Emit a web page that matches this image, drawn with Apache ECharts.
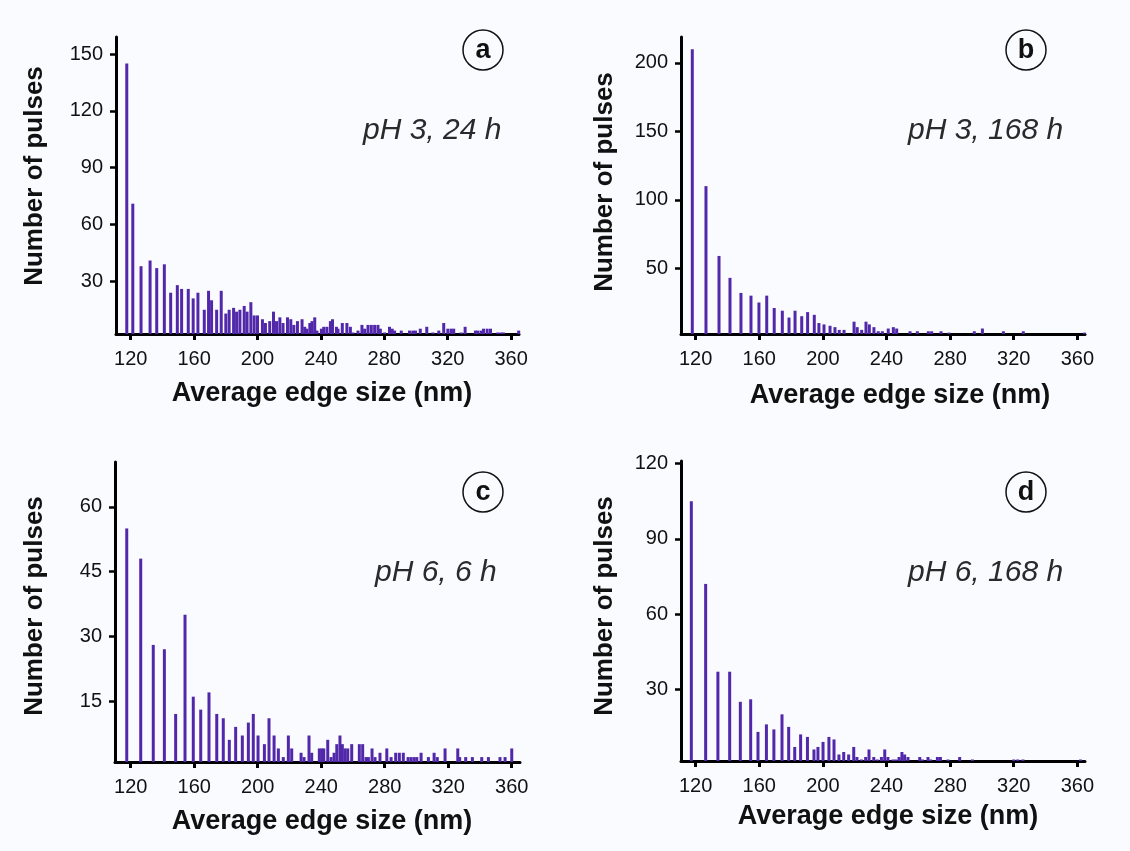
<!DOCTYPE html>
<html>
<head>
<meta charset="utf-8">
<title>Edge size distributions</title>
<script src="https://cdn.jsdelivr.net/npm/echarts@6/dist/echarts.min.js"></script>
<style>
  html, body { margin: 0; padding: 0; background: #fafbfe; }
  #chart { width: 1130px; height: 851px; }
</style>
</head>
<body>
<div id="chart"></div>
<script>
// Histogram bins: average edge size (nm) and number of pulses per bin
const xTickValues = [120, 160, 200, 240, 280, 320, 360];

const sizesA = [
  117.5, 121.3, 126.5, 132.2, 136.4, 141.2, 145.2, 149.4, 152.1, 156.3,
  159.4, 162.4, 166.4, 169.1, 171.0, 174.2, 177.1, 180.0, 182.1, 184.9,
  186.8, 188.9, 191.6, 193.4, 195.8, 197.9, 200.0, 203.1, 205.0, 207.7,
  210.1, 212.0, 214.1, 216.1, 218.9, 221.0, 222.9, 225.2, 228.1, 229.8,
  231.1, 233.0, 234.4, 236.1, 237.5, 240.3, 241.8, 243.8, 246.0, 247.3,
  249.8, 250.8, 253.5, 256.4, 258.6, 260.2, 263.4, 265.9, 267.6, 269.7,
  271.8, 273.9, 276.0, 277.5, 280.2, 283.3, 285.0, 286.5, 290.7, 295.9,
  298.0, 299.7, 302.7, 306.8, 310.6, 314.4, 317.5, 320.1, 322.2, 323.8,
  328.5, 331.0, 337.5, 339.0, 341.1, 342.6, 344.9, 347.0, 351.6, 353.7,
  355.2, 364.8
];
const countsA = [
  145, 71, 38, 41, 37, 39, 24, 28, 26, 26,
  21, 24, 15, 25, 20, 15, 25, 13, 15, 16,
  14, 15, 17, 14, 19, 12, 12, 10, 8, 9,
  14, 9, 11, 8, 11, 10, 7, 9, 10, 6,
  5, 8, 9, 11, 4, 5, 6, 6, 9, 10,
  6, 5, 8, 8, 6, 3, 4, 7, 5, 7,
  7, 7, 7, 5, 3, 6, 5, 4, 4, 4,
  4, 4, 5, 6, 3, 4, 8, 5, 5, 5,
  3, 6, 4, 4, 4, 5, 5, 5, 3, 3,
  3, 4
];

const sizesB = [
  117.9, 126.5, 134.7, 141.6, 148.5, 154.8, 159.8, 164.7, 169.4, 174.5,
  178.7, 182.5, 186.7, 190.4, 194.6, 197.5, 200.7, 204.5, 207.6, 210.3,
  213.3, 219.6, 221.6, 224.4, 227.1, 229.2, 232.1, 234.8, 237.4, 241.1,
  244.3, 246.4, 254.8, 259.4, 266.3, 268.4, 274.3, 279.3, 295.2, 300.3,
  313.5, 326.0, 364.5
];
const countsB = [
  210, 110, 59, 43, 32, 30, 25, 30, 21, 19,
  14, 19, 15, 18, 16, 10, 9, 8, 7, 5,
  5, 11, 7, 5, 11, 9, 7, 4, 4, 6,
  7, 6, 4, 4, 4, 4, 4, 3, 4, 6,
  4, 4, 3
];

const sizesC = [
  117.5, 126.3, 134.2, 141.2, 148.3, 154.2, 159.4, 164.1, 169.3, 174.2,
  178.3, 182.1, 186.1, 190.3, 194.1, 197.2, 200.2, 204.2, 207.1, 210.3,
  213.0, 216.1, 219.3, 221.4, 227.3, 229.2, 232.3, 234.0, 238.8, 240.3,
  241.6, 244.1, 246.2, 248.1, 249.8, 251.8, 253.3, 255.0, 256.7, 259.2,
  264.0, 266.1, 268.2, 269.7, 272.0, 273.9, 277.0, 281.3, 284.0, 286.9,
  289.2, 291.7, 294.7, 296.6, 298.5, 300.2, 302.9, 307.5, 311.1, 313.1,
  318.0, 326.0, 327.2, 331.0, 335.2, 341.1, 345.3, 352.6, 355.8, 360.0
];
const countsC = [
  55, 48, 28, 27, 12, 35, 16, 13, 17, 12,
  11, 6, 9, 7, 10, 12, 7, 5, 11, 7,
  4, 2, 7, 4, 3, 2, 7, 3, 4, 4,
  4, 6, 2, 3, 5, 7, 5, 4, 4, 5,
  5, 5, 2, 2, 4, 2, 3, 4, 2, 3,
  3, 3, 2, 2, 2, 2, 3, 2, 3, 2,
  4, 4, 2, 2, 2, 2, 2, 2, 2, 4
];

const sizesD = [
  117.3, 126.3, 134.0, 141.4, 148.1, 154.6, 159.2, 164.5, 169.2, 174.3,
  178.5, 182.3, 186.0, 190.3, 194.4, 196.9, 200.1, 203.8, 207.0, 210.1,
  213.1, 216.2, 219.4, 221.4, 224.2, 226.9, 229.0, 232.0, 234.2, 236.8,
  238.9, 240.9, 244.1, 245.8, 247.9, 249.7, 251.4, 253.5, 260.9, 262.6,
  266.1, 267.8, 272.0, 273.9, 278.7, 286.0, 294.0, 320.0, 322.5, 325.8,
  362.0
];
const countsD = [
  105, 72, 37, 37, 25, 26, 13, 16, 14, 20,
  15, 7, 12, 11, 6, 7, 9, 11, 10, 4,
  5, 4, 7, 3, 2, 3, 6, 3, 2, 3,
  6, 3, 2, 2, 3, 5, 4, 3, 3, 2,
  3, 2, 3, 3, 2, 3, 2, 2, 2, 2,
  2
];

const yTicksA = [30, 60, 90, 120, 150];
const yTicksB = [50, 100, 150, 200];
const yTicksC = [15, 30, 45, 60];
const yTicksD = [30, 60, 90, 120];

const panelLetters = ['a', 'b', 'c', 'd'];
const panelConditions = ['pH 3, 24 h', 'pH 3, 168 h', 'pH 6, 6 h', 'pH 6, 168 h'];
const xTitle = 'Average edge size (nm)';
const yTitle = 'Number of pulses';

// Layout of the four panels (pixel boxes, axis ranges, annotation spots)
const panels = [
  { sizes: sizesA, counts: countsA, yTicks: yTicksA,
    grid: { left: 116, top: 37, width: 403, height: 297 },
    x: [110.7, 365], y: [2.2, 159],
    circle: [483, 50], cond: [363, 131], xt: [322, 394], yt: [35, 176] },
  { sizes: sizesB, counts: countsB, yTicks: yTicksB,
    grid: { left: 681, top: 37, width: 404, height: 297 },
    x: [110.8, 364.8], y: [2.0, 218.9],
    circle: [1026, 50], cond: [908, 131], xt: [900, 396], yt: [605, 182] },
  { sizes: sizesC, counts: countsC, yTicks: yTicksC,
    grid: { left: 115, top: 462, width: 405, height: 300 },
    x: [110.1, 365.2], y: [0.86, 70.4],
    circle: [483, 492], cond: [375, 573], xt: [322, 822], yt: [35, 606] },
  { sizes: sizesD, counts: countsD, yTicks: yTicksD,
    grid: { left: 681, top: 461, width: 404, height: 300 },
    x: [110.8, 364.8], y: [1.4, 121],
    circle: [1026, 492], cond: [908, 573], xt: [888, 817], yt: [605, 606] }
];

const FONT = 'Arial, "Liberation Sans", Helvetica, sans-serif';
const BAR_COLOR = '#5228aa';

const option = {
  animation: false,
  backgroundColor: '#fafbfe',
  grid: [], xAxis: [], yAxis: [], series: [], graphic: []
};

panels.forEach((p, i) => {
  option.grid.push(Object.assign({ containLabel: false }, p.grid));
  option.xAxis.push({
    type: 'value', gridIndex: i, min: p.x[0], max: p.x[1],
    splitLine: { show: false },
    axisLine: { onZero: false, lineStyle: { color: '#000', width: 3 } },
    axisTick: { customValues: xTickValues, length: 6, lineStyle: { color: '#000', width: 3 } },
    axisLabel: { customValues: xTickValues, margin: 15, color: '#111', fontSize: 20, fontFamily: FONT }
  });
  option.yAxis.push({
    type: 'value', gridIndex: i, min: p.y[0], max: p.y[1],
    splitLine: { show: false },
    axisLine: { onZero: false, lineStyle: { color: '#000', width: 3 } },
    axisTick: { customValues: p.yTicks, length: 6, lineStyle: { color: '#000', width: 2.5 } },
    axisLabel: { customValues: p.yTicks, margin: 13, color: '#111', fontSize: 20, fontFamily: FONT }
  });
  option.series.push({
    type: 'bar', xAxisIndex: i, yAxisIndex: i, clip: true,
    barWidth: 3,
    itemStyle: { color: BAR_COLOR },
    data: p.sizes.map((s, k) => [s, p.counts[k]])
  });
  option.graphic.push(
    { type: 'circle', shape: { cx: p.circle[0], cy: p.circle[1], r: 20 },
      style: { fill: 'none', stroke: '#111', lineWidth: 1.5 } },
    { type: 'text', x: p.circle[0], y: p.circle[1] + 1,
      style: { text: panelLetters[i], font: 'bold 27px ' + FONT, fill: '#111',
               align: 'center', verticalAlign: 'middle' } },
    { type: 'text', x: p.cond[0], y: p.cond[1],
      style: { text: panelConditions[i], font: 'italic 30px ' + FONT, fill: '#2a2a2a',
               align: 'left', verticalAlign: 'middle' } },
    { type: 'text', x: p.xt[0], y: p.xt[1],
      style: { text: xTitle, font: 'bold 27px ' + FONT, fill: '#111',
               align: 'center', verticalAlign: 'middle' } },
    { type: 'text', x: p.yt[0], y: p.yt[1], rotation: Math.PI / 2,
      style: { text: yTitle, font: 'bold 26px ' + FONT, fill: '#111',
               align: 'center', verticalAlign: 'middle' } }
  );
});

const chart = echarts.init(document.getElementById('chart'), null, { renderer: 'canvas' });
chart.setOption(option);
</script>
</body>
</html>
